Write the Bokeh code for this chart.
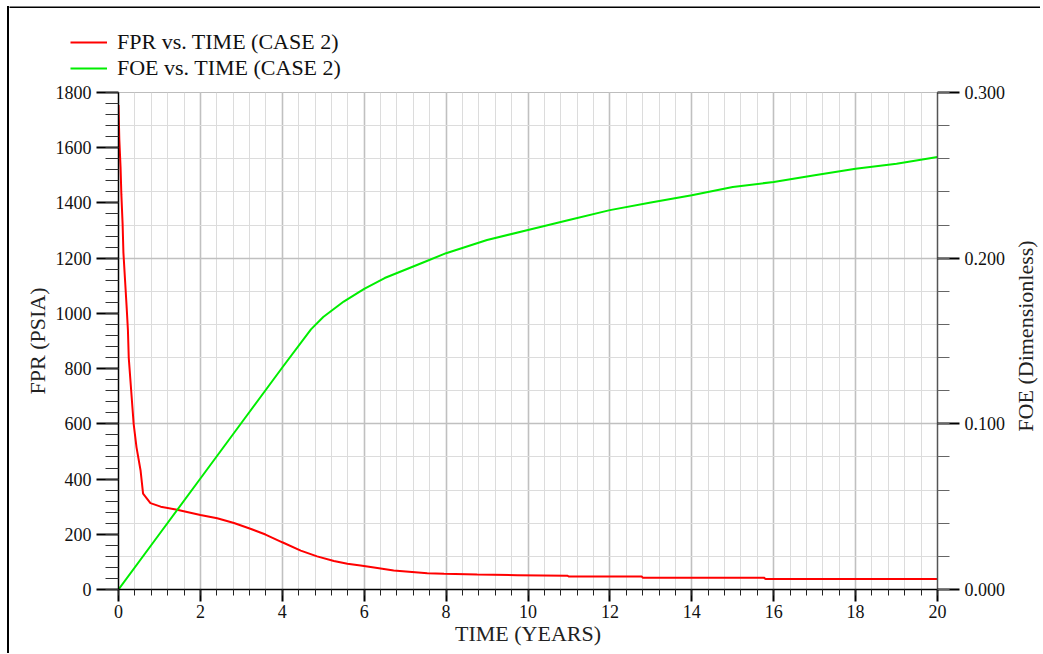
from bokeh.plotting import figure
from bokeh.layouts import column, row
from bokeh.models import (Range1d, LinearAxis, SingleIntervalTicker, FixedTicker, Grid,
                          Legend, LegendItem, NumeralTickFormatter, Label, Div, Spacer)
from bokeh.embed import file_html
from bokeh.resources import INLINE
import math

# ---- data ----
time_fpr = [0.00, 0.02, 0.05, 0.07, 0.10, 0.12, 0.16, 0.20, 0.23, 0.25, 0.31, 0.37,
            0.44, 0.54, 0.60, 0.78, 1.03, 1.43, 2.00, 2.41, 2.82, 3.22, 3.59, 4.00,
            4.45, 4.85, 5.26, 5.59, 5.91, 6.24, 6.72, 7.54, 7.95, 8.76, 9.74, 10.96,
            11.00, 12.78, 12.80, 15.76, 15.80, 20.00]
fpr = [1755, 1630, 1530, 1430, 1325, 1220, 1120, 1020, 940, 840, 720, 600,
       515, 430, 347, 313, 300, 289, 270, 258, 241, 220, 199, 171,
       141, 120, 103, 93, 87, 80, 69, 59, 57, 54, 52, 50,
       47, 47, 43, 43, 38, 38]

time_foe = [0, 1, 2, 3, 4, 4.7, 5.0, 5.5, 6, 6.5, 7, 7.5, 8, 9, 10, 11, 12, 13,
            14, 15, 16, 17, 18, 19, 20]
foe = [0.0, 0.0335, 0.067, 0.1005, 0.134, 0.157, 0.1645, 0.1738, 0.1815, 0.188,
       0.193, 0.198, 0.203, 0.211, 0.217, 0.223, 0.229, 0.2336, 0.238, 0.243,
       0.246, 0.250, 0.254, 0.257, 0.261]

labels = ["FPR vs. TIME (CASE 2)", "FOE vs. TIME (CASE 2)"]
colors = ["#ff0000", "#00ee00"]
x_title = "TIME (YEARS)"
y_title = "FPR (PSIA)"
y2_title = "FOE (Dimensionless)"

x_major = [2 * i for i in range(11)]
x_minor = [round(0.4 * i, 1) for i in range(51)]
foe_major = [0.0, 0.1, 0.2, 0.3]
foe_minor = [round(0.02 * i, 2) for i in range(16)]

FONT = "Liberation Serif"
TOP_H = 83
MAIN_H = 570
P_W = 1003
R_W = 28
INNER_W = P_W + R_W


def bare(width, height, y_range=None):
    f = figure(width=width, height=height, output_backend="svg", toolbar_location=None,
               x_range=Range1d(0, width),
               y_range=y_range if y_range is not None else Range1d(0, height),
               x_axis_type=None, y_axis_type=None,
               min_border_left=0, min_border_right=0, min_border_top=0,
               min_border_bottom=0)
    f.outline_line_color = None
    f.grid.visible = False
    f.background_fill_color = "white"
    f.border_fill_color = "white"
    return f


# ---- top strip: legend + top edge of the picture frame ----
top = bare(INNER_W, TOP_H)
top.segment(x0=[-5], y0=[TOP_H - 6.75], x1=[INNER_W], y1=[TOP_H - 6.75],
            line_color="black", line_width=1.5)
dummies = [top.line(x=[-100, -90], y=[-100, -100], line_color=c, line_width=2)
           for c in colors]
legend = Legend(items=[LegendItem(label=l, renderers=[r]) for l, r in zip(labels, dummies)],
                location=(61, 2), padding=0, margin=0, spacing=0,
                label_standoff=10, glyph_width=37, glyph_height=24,
                label_height=24, label_text_font=FONT,
                label_text_font_size="22px", label_text_color="#111",
                border_line_color=None, background_fill_alpha=0)
top.add_layout(legend)

# ---- main chart ----
p = figure(width=P_W, height=MAIN_H, output_backend="svg", toolbar_location=None,
           x_range=Range1d(0, 20), y_range=Range1d(0, 1800),
           min_border_left=109, min_border_right=75, min_border_top=9,
           min_border_bottom=64)
p.extra_y_ranges = {"foe": Range1d(0, 0.3)}
p.background_fill_color = "white"
p.border_fill_color = "white"
p.outline_line_color = "#bdbdbd"
p.grid.visible = False

for dim, rng, ticks, color, w in [
        (0, None, x_minor, "#dcdcdc", 1), (0, None, x_major, "#c0c0c0", 1.6),
        (1, "foe", foe_minor, "#dcdcdc", 1), (1, "foe", foe_major, "#c0c0c0", 1.6)]:
    kw = dict(dimension=dim, ticker=FixedTicker(ticks=ticks),
              grid_line_color=color, grid_line_width=w)
    if rng:
        kw["y_range_name"] = rng
    p.add_layout(Grid(**kw))

xa = p.xaxis[0]
xa.ticker = FixedTicker(ticks=x_major, minor_ticks=x_minor)
xa.major_tick_out = 12
xa.major_tick_in = 0
xa.minor_tick_out = 6
xa.minor_tick_in = 0
xa.axis_line_color = "black"
xa.axis_line_width = 1.5
xa.major_tick_line_width = 2
xa.minor_tick_line_color = "#222"
xa.major_label_standoff = 3
xa.major_label_text_font = FONT
xa.major_label_text_font_size = "18px"
xa.major_label_text_color = "#111"
xa.axis_label = x_title
xa.axis_label_text_font = FONT
xa.axis_label_text_font_size = "22px"
xa.axis_label_text_font_style = "normal"
xa.axis_label_text_color = "#222"
xa.axis_label_standoff = 0

ya = p.yaxis[0]
ya.ticker = SingleIntervalTicker(interval=200, num_minor_ticks=5)
ya.major_tick_out = 22
ya.major_tick_in = 0
ya.minor_tick_out = 13
ya.minor_tick_in = 0
ya.axis_line_color = "black"
ya.axis_line_width = 1.5
ya.major_tick_line_width = 2
ya.minor_tick_line_color = "#333"
ya.major_label_standoff = 5
ya.major_label_text_font = FONT
ya.major_label_text_font_size = "18px"
ya.major_label_text_color = "#111"
ya.axis_label = y_title
ya.axis_label_text_font = FONT
ya.axis_label_text_font_size = "22px"
ya.axis_label_text_font_style = "normal"
ya.axis_label_text_color = "#222"
ya.axis_label_standoff = 3

ra = LinearAxis(y_range_name="foe",
                ticker=FixedTicker(ticks=foe_major, minor_ticks=foe_minor),
                formatter=NumeralTickFormatter(format="0.000"))
ra.major_tick_out = 22
ra.major_tick_in = 0
ra.minor_tick_out = 12
ra.minor_tick_in = 0
ra.axis_line_color = "#555"
ra.axis_line_width = 1.5
ra.major_tick_line_width = 2
ra.major_tick_line_color = "black"
ra.minor_tick_line_color = "#666"
ra.major_label_standoff = 5
ra.major_label_text_font = FONT
ra.major_label_text_font_size = "18px"
ra.major_label_text_color = "#111"
p.add_layout(ra, "right")

p.line(time_fpr, fpr, line_color=colors[0], line_width=2)
p.line(time_foe, foe, y_range_name="foe", line_color=colors[1], line_width=2)

# ---- right strip holding the right axis title ----
rfig = bare(R_W, MAIN_H, y_range=p.y_range)
rfig.add_layout(Label(x=13, y=900, y_offset=5, text=y2_title, angle=math.pi / 2,
                      text_align="center", text_baseline="middle",
                      text_font=FONT, text_font_size="22px", text_color="#222"))

# ---- left edge of the picture frame ----
edge_h = TOP_H + MAIN_H - 6
left_edge = column(Spacer(width=7, height=6, margin=0),
                   row(Spacer(width=7, height=edge_h, margin=0),
                       Div(text="", width=2, height=edge_h, margin=0,
                           styles={"background-color": "black"}), spacing=0),
                   spacing=0)

layout = row(left_edge,
             column(top, row(p, rfig, spacing=0), spacing=0),
             spacing=0)
open("out.html", "w").write(file_html(layout, INLINE))
